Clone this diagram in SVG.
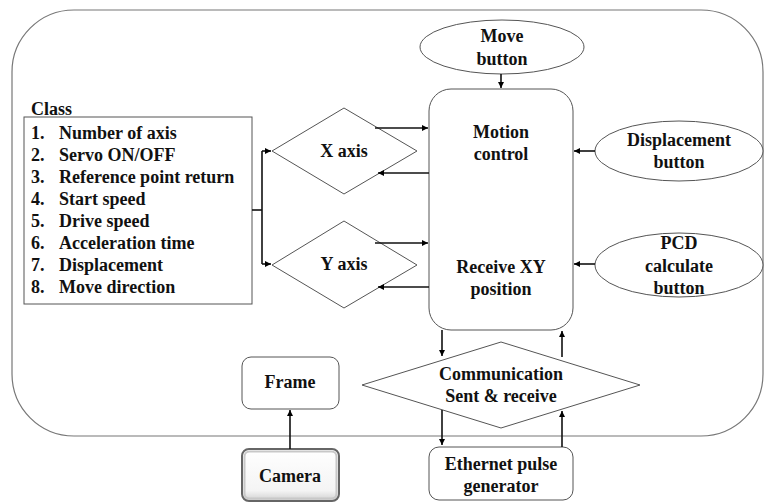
<svg xmlns="http://www.w3.org/2000/svg" width="766" height="502" viewBox="0 0 766 502">
<defs>
<marker id="ah" markerWidth="8" markerHeight="8" refX="6" refY="3" orient="auto" markerUnits="userSpaceOnUse">
<path d="M0,0 L6,3 L0,6 z" fill="#000"/>
</marker>
<linearGradient id="camg" x1="0" y1="0" x2="0" y2="1">
<stop offset="0" stop-color="#ffffff"/>
<stop offset="0.8" stop-color="#f4f4f4"/>
<stop offset="1" stop-color="#cfcfcf"/>
</linearGradient>
</defs>
<style>
text{font-weight:bold;font-size:18px;fill:#111}
.c{text-anchor:middle}
.shape{fill:#fff;stroke:#555;stroke-width:1}
.conn{fill:none;stroke:#111;stroke-width:1.6}
</style>
<rect width="766" height="502" fill="#fff"/>
<g id="boundary">
<rect x="12" y="10" width="751" height="426" rx="62" ry="62" fill="none" stroke="#777" stroke-width="1.2"/>
</g>
<g id="class-list">
<text x="31" y="115" style="font-family:'Liberation Serif',serif">Class</text>
<rect class="shape" x="24" y="117" width="228" height="187" stroke="#333"/>
<text x="31" y="139" style="font-family:'Liberation Serif',serif">1.</text><text x="59" y="139" style="font-family:'Liberation Serif',serif">Number of axis</text>
<text x="31" y="161" style="font-family:'Liberation Serif',serif">2.</text><text x="59" y="161" style="font-family:'Liberation Serif',serif">Servo ON/OFF</text>
<text x="31" y="183" style="font-family:'Liberation Serif',serif">3.</text><text x="59" y="183" style="font-family:'Liberation Serif',serif">Reference point return</text>
<text x="31" y="205" style="font-family:'Liberation Serif',serif">4.</text><text x="59" y="205" style="font-family:'Liberation Serif',serif">Start speed</text>
<text x="31" y="227" style="font-family:'Liberation Serif',serif">5.</text><text x="59" y="227" style="font-family:'Liberation Serif',serif">Drive speed</text>
<text x="31" y="249" style="font-family:'Liberation Serif',serif">6.</text><text x="59" y="249" style="font-family:'Liberation Serif',serif">Acceleration time</text>
<text x="31" y="271" style="font-family:'Liberation Serif',serif">7.</text><text x="59" y="271" style="font-family:'Liberation Serif',serif">Displacement</text>
<text x="31" y="293" style="font-family:'Liberation Serif',serif">8.</text><text x="59" y="293" style="font-family:'Liberation Serif',serif">Move direction</text>
</g>
<g id="x-axis">
<polygon class="shape" points="272,151 344,108 417,151 344,194"/>
<text class="c" x="344" y="157" style="font-family:'Liberation Serif',serif">X axis</text>
</g>
<g id="y-axis">
<polygon class="shape" points="272,265 344,221 417,265 344,308"/>
<text class="c" x="344" y="270" style="font-family:'Liberation Serif',serif">Y axis</text>
</g>
<g id="motion-control">
<rect class="shape" x="429" y="89" width="144" height="241" rx="22" ry="22" stroke="#333"/>
<text class="c" x="501" y="138" style="font-family:'Liberation Serif',serif">Motion</text>
<text class="c" x="501" y="160" style="font-family:'Liberation Serif',serif">control</text>
<text class="c" x="501" y="273" style="font-family:'Liberation Serif',serif">Receive XY</text>
<text class="c" x="501" y="295" style="font-family:'Liberation Serif',serif">position</text>
</g>
<g id="move-button">
<ellipse class="shape" cx="502" cy="47" rx="82" ry="27" stroke="#333"/>
<text class="c" x="502" y="42" style="font-family:'Liberation Serif',serif">Move</text>
<text class="c" x="502" y="65" style="font-family:'Liberation Serif',serif">button</text>
</g>
<g id="displacement-button">
<ellipse class="shape" cx="679" cy="151" rx="84" ry="30" stroke="#333"/>
<text class="c" x="679" y="146" style="font-family:'Liberation Serif',serif">Displacement</text>
<text class="c" x="679" y="168" style="font-family:'Liberation Serif',serif">button</text>
</g>
<g id="pcd-button">
<ellipse class="shape" cx="679" cy="265" rx="84" ry="32" stroke="#333"/>
<text class="c" x="679" y="249" style="font-family:'Liberation Serif',serif">PCD</text>
<text class="c" x="679" y="272" style="font-family:'Liberation Serif',serif">calculate</text>
<text class="c" x="679" y="294" style="font-family:'Liberation Serif',serif">button</text>
</g>
<g id="communication">
<polygon class="shape" points="362,385 501,342 640,385 501,428"/>
<text class="c" x="501" y="380" style="font-family:'Liberation Serif',serif">Communication</text>
<text class="c" x="501" y="402" style="font-family:'Liberation Serif',serif">Sent &amp; receive</text>
</g>
<g id="ethernet">
<rect class="shape" x="429" y="447" width="144" height="53" rx="10" ry="10" stroke="#333"/>
<text class="c" x="501" y="470" style="font-family:'Liberation Serif',serif">Ethernet pulse</text>
<text class="c" x="501" y="492" style="font-family:'Liberation Serif',serif">generator</text>
</g>
<g id="frame">
<rect class="shape" x="242" y="357" width="97" height="52" rx="9" ry="9" stroke="#333"/>
<text class="c" x="290" y="388" style="font-family:'Liberation Serif',serif">Frame</text>
</g>
<g id="camera">
<rect x="242" y="449" width="97" height="52" rx="7" ry="7" fill="url(#camg)" stroke="#666" stroke-width="2"/>
<rect x="244.5" y="451.5" width="92" height="47" rx="5" ry="5" fill="none" stroke="#c8c8c8" stroke-width="2"/>
<text class="c" x="290" y="482" style="font-family:'Liberation Serif',serif">Camera</text>
</g>
<g id="connectors">
<path class="conn" d="M252,210 H262"/>
<path class="conn" d="M262,151 V264"/>
<path class="conn" d="M262,151 H271" marker-end="url(#ah)"/>
<path class="conn" d="M262,264 H271" marker-end="url(#ah)"/>
<path class="conn" d="M375,128 H428" marker-end="url(#ah)"/>
<path class="conn" d="M429,173 H378" marker-end="url(#ah)"/>
<path class="conn" d="M375,243 H428" marker-end="url(#ah)"/>
<path class="conn" d="M429,287 H378" marker-end="url(#ah)"/>
<path class="conn" d="M501,74 V88" marker-end="url(#ah)"/>
<path class="conn" d="M595,151 H574" marker-end="url(#ah)"/>
<path class="conn" d="M595,264 H574" marker-end="url(#ah)"/>
<path class="conn" d="M442,330 V356" marker-end="url(#ah)"/>
<path class="conn" d="M562,357 V331" marker-end="url(#ah)"/>
<path class="conn" d="M442,410 V445" marker-end="url(#ah)"/>
<path class="conn" d="M562,447 V411" marker-end="url(#ah)"/>
<path class="conn" d="M290,449 V410" marker-end="url(#ah)"/>
</g>
</svg>
